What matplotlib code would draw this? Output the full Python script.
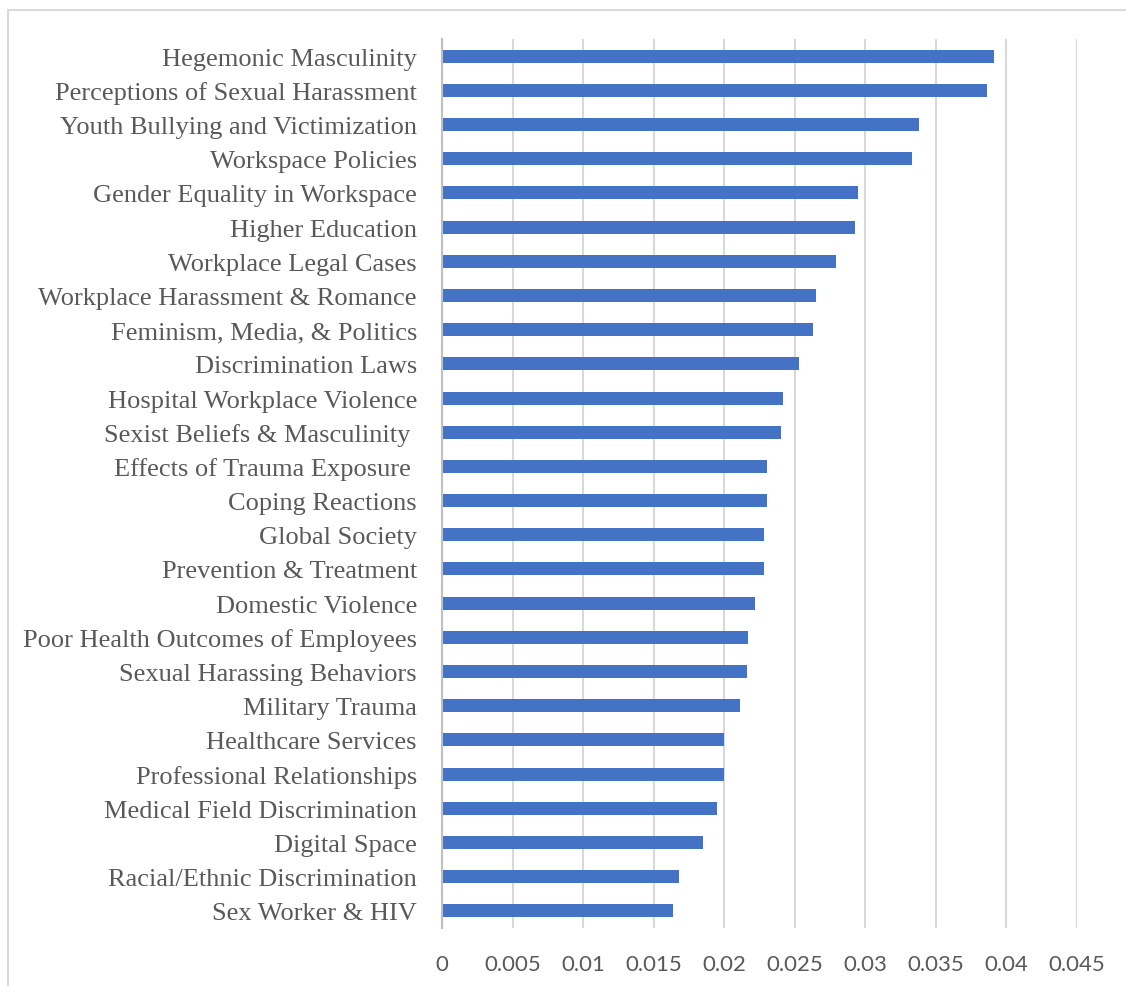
import matplotlib
matplotlib.use('Agg')
from matplotlib import pyplot as plt
from matplotlib.patches import Rectangle

# topics, top to bottom as shown in the chart
topics = [
    'Hegemonic Masculinity',
    'Perceptions of Sexual Harassment',
    'Youth Bullying and Victimization',
    'Workspace Policies',
    'Gender Equality in Workspace',
    'Higher Education',
    'Workplace Legal Cases',
    'Workplace Harassment & Romance',
    'Feminism, Media, & Politics',
    'Discrimination Laws',
    'Hospital Workplace Violence',
    'Sexist Beliefs & Masculinity ',
    'Effects of Trauma Exposure ',
    'Coping Reactions',
    'Global Society',
    'Prevention & Treatment',
    'Domestic Violence',
    'Poor Health Outcomes of Employees',
    'Sexual Harassing Behaviors',
    'Military Trauma',
    'Healthcare Services',
    'Professional Relationships',
    'Medical Field Discrimination',
    'Digital Space',
    'Racial/Ethnic Discrimination',
    'Sex Worker & HIV',
]

values = [
    0.0391, 0.0386, 0.0338, 0.0333, 0.0295, 0.0293, 0.0279, 0.0265, 0.0263,
    0.0253, 0.0242, 0.0240, 0.0230, 0.0230, 0.0228, 0.0228, 0.0222, 0.0217,
    0.0216, 0.0211, 0.0200, 0.0200, 0.0195, 0.0185, 0.0168, 0.0164,
]

x_ticks = [0, 0.005, 0.01, 0.015, 0.02, 0.025, 0.03, 0.035, 0.04, 0.045]
x_tick_labels = ['0', '0.005', '0.01', '0.015', '0.02', '0.025', '0.03', '0.035', '0.04', '0.045']

fig = plt.figure(figsize=(11.26, 9.87), dpi=100)
ax = fig.add_axes([442 / 1126, 1 - 929 / 987, (1077 - 442) / 1126, (929 - 40) / 987])

# outer chart border (cropped on right and bottom in the reference)
fig.patches.append(Rectangle((8 / 1126, -0.05), 1.2, 1 - 11 / 987 + 0.05,
                             transform=fig.transFigure, fill=False,
                             edgecolor='#D9D9D9', linewidth=1.5))

pos = list(range(len(topics)))
ax.barh(pos, values, height=0.38, color='#4472C4', zorder=3)

ax.set_ylim(len(topics) - 0.5, -0.5)
ax.set_xlim(0, 0.045)
ax.set_yticks(pos)
ax.set_yticklabels(topics, fontfamily='Liberation Serif', fontsize=19, color='#595959')
ax.set_xticks(x_ticks)
ax.set_xticklabels(x_tick_labels, fontfamily='Lato', fontsize=16, color='#595959')

ax.tick_params(axis='y', length=0, pad=18)
ax.tick_params(axis='x', length=0, pad=19)
ax.grid(axis='x', color='#D9D9D9', linewidth=1.5, zorder=0)

for side in ['top', 'right', 'bottom']:
    ax.spines[side].set_visible(False)
ax.spines['left'].set_color('#BFBFBF')
ax.spines['left'].set_linewidth(1.5)
ax.spines['left'].set_zorder(4)

fig.savefig('out.png', dpi=100)
